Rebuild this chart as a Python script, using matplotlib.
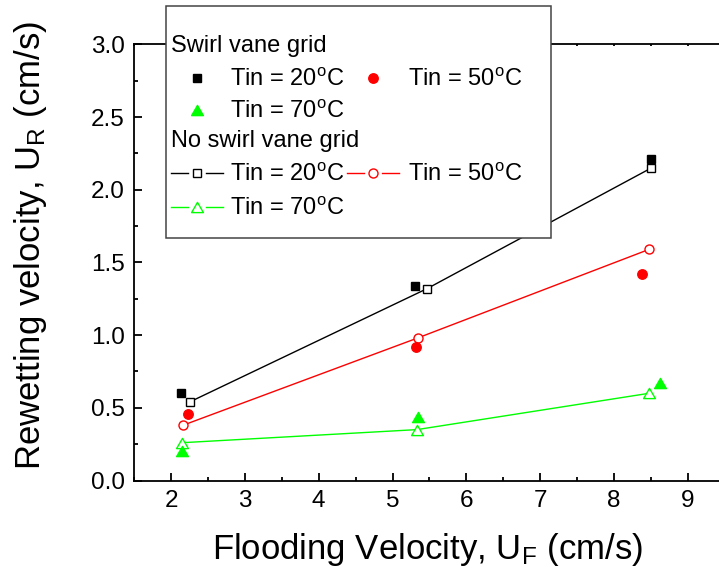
import matplotlib

matplotlib.use("Agg")

import matplotlib.pyplot as plt
from matplotlib.lines import Line2D
from matplotlib.patches import Rectangle
from matplotlib.path import Path
from matplotlib.ticker import FormatStrFormatter, MultipleLocator

plt.rcParams["font.family"] = ["Liberation Sans", "DejaVu Sans"]
plt.rcParams["mathtext.fontset"] = "custom"
plt.rcParams["mathtext.rm"] = "Liberation Sans"

# swirl vane grid (filled symbols, no line)
swirl_20_x = [2.13, 5.31, 8.51]
swirl_20_y = [0.60, 1.34, 2.21]
swirl_50_x = [2.23, 5.32, 8.38]
swirl_50_y = [0.46, 0.92, 1.42]
swirl_70_x = [2.15, 5.35, 8.63]
swirl_70_y = [0.20, 0.44, 0.67]

# no swirl vane grid (open symbols joined by lines)
plain_20_x = [2.25, 5.47, 8.51]
plain_20_y = [0.54, 1.32, 2.15]
plain_50_x = [2.16, 5.34, 8.48]
plain_50_y = [0.38, 0.98, 1.59]
plain_70_x = [2.15, 5.33, 8.48]
plain_70_y = [0.26, 0.35, 0.60]

temp_labels = ["Tin = 20$\\mathregular{^o}$C", "Tin = 50$\\mathregular{^o}$C",
               "Tin = 70$\\mathregular{^o}$C"]

BLACK = "#000000"
RED = "#ff0000"
GREEN = "#00ff00"
# equilateral triangle, closed so open markers get all three edges
TRI = Path([(-1, -0.866), (1, -0.866), (0, 0.866), (-1, -0.866)],
           [Path.MOVETO, Path.LINETO, Path.LINETO, Path.CLOSEPOLY])

W, H = 719, 579
fig = plt.figure(figsize=(W / 100, H / 100), dpi=100)
ax = fig.add_axes([134.3 / W, 1 - 480.5 / H, 590.2 / W, 436.2 / H])


def fpt(x, y):
    # pixel position from top-left -> figure fraction
    return x / W, 1 - y / H


# open symbols with lines
ax.plot(plain_20_x, plain_20_y, color=BLACK, lw=1, marker="s", ms=6,
        mfc="white", mec=BLACK, mew=1)
ax.plot(plain_50_x, plain_50_y, color=RED, lw=1, marker="o", ms=6.5,
        mfc="white", mec=RED, mew=1)
ax.plot(plain_70_x, plain_70_y, color=GREEN, lw=1, marker=TRI, ms=8.5,
        mfc="white", mec=GREEN, mew=1)

# filled symbols
ax.plot(swirl_20_x, swirl_20_y, ls="none", marker="s", ms=6, color=BLACK)
ax.plot(swirl_50_x, swirl_50_y, ls="none", marker="o", ms=6.8, color=RED)
ax.plot(swirl_70_x, swirl_70_y, ls="none", marker=TRI, ms=8.5, color=GREEN)

ax.set_xlim(1.5, 9.5)
ax.set_ylim(0, 3.0)
ax.xaxis.set_major_locator(MultipleLocator(1))
ax.xaxis.set_minor_locator(MultipleLocator(0.5))
ax.yaxis.set_major_locator(MultipleLocator(0.5))
ax.yaxis.set_minor_locator(MultipleLocator(0.25))
ax.yaxis.set_major_formatter(FormatStrFormatter("%.1f"))

for side in ["left", "bottom", "top"]:
    ax.spines[side].set_linewidth(1.3)
ax.spines["right"].set_visible(False)
ax.tick_params(which="both", direction="in", labelsize=17.5, width=1.3,
               top=True, right=False, labeltop=False)
ax.tick_params(which="major", length=6, pad=7)
ax.tick_params(which="minor", length=3)
for t in ax.xaxis.get_major_ticks() + ax.xaxis.get_minor_ticks():
    t.tick2line.set_markersize(1.5)

fig.text(*fpt(428, 550), "Flooding Velocity, $\\mathregular{U_F}$ (cm/s)",
         fontsize=25, ha="center", va="center")
fig.text(*fpt(31, 245), "Rewetting velocity, $\\mathregular{U_R}$ (cm/s)",
         fontsize=25, ha="center", va="center", rotation=90)

# legend box drawn on top of the axes, reaching above the frame
x0, y0 = fpt(165.7, 238.3)
x1, y1 = fpt(551, 6)
fig.add_artist(Rectangle((x0, y0), x1 - x0, y1 - y0, transform=fig.transFigure,
                         facecolor="white", edgecolor="#444444", lw=1.1, zorder=5))


def legend_text(x, y, s):
    fig.text(*fpt(x, y), s, fontsize=17, ha="left", va="baseline", zorder=6)


def legend_marker(x, y, marker, color, ms, filled, with_line):
    fx, fy = fpt(x, y)
    if with_line:
        for a, b in [(x - 26, x - 9), (x + 9, x + 26)]:
            fig.add_artist(Line2D([a / W, b / W], [fy, fy], transform=fig.transFigure,
                                  color=color, lw=1, zorder=6))
    fig.add_artist(Line2D([fx], [fy], transform=fig.transFigure, ls="none",
                          marker=marker, ms=ms, color=color,
                          mfc=color if filled else "white", mec=color,
                          mew=1, zorder=7))


legend_text(171, 52, "Swirl vane grid")
legend_marker(196.7, 78.3, "s", BLACK, 6, True, False)
legend_text(230, 86, temp_labels[0])
legend_marker(373, 78.3, "o", RED, 6.8, True, False)
legend_text(408, 86, temp_labels[1])
legend_marker(196.7, 110, TRI, GREEN, 8.5, True, False)
legend_text(230, 118, temp_labels[2])

legend_text(171, 147, "No swirl vane grid")
legend_marker(196.7, 173, "s", BLACK, 6, False, True)
legend_text(230, 181, temp_labels[0])
legend_marker(373, 173, "o", RED, 6.5, False, True)
legend_text(408, 181, temp_labels[1])
legend_marker(196.7, 207, TRI, GREEN, 8.5, False, True)
legend_text(230, 215, temp_labels[2])

fig.savefig("out.png", dpi=100)
plt.close(fig)
